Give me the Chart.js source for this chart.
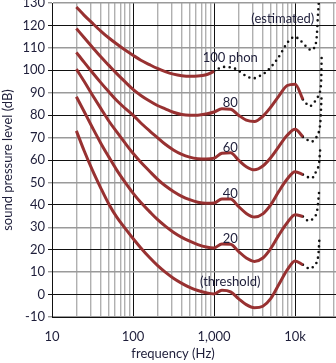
<!DOCTYPE html>
<html>
<head>
<meta charset="utf-8">
<title>Equal-loudness contours</title>
<script src="https://cdn.jsdelivr.net/npm/chart.js@4.4.1/dist/chart.umd.min.js"></script>
<style>
  html, body { margin: 0; padding: 0; background: #fff; }
  #wrap { width: 336px; height: 363px; }
</style>
</head>
<body>
<div id="wrap"><canvas id="chart" width="336" height="363"></canvas></div>
<script>
// measured frequencies (Hz) for the solid contours
const freqs = [20, 25, 31.5, 40, 50, 63, 80, 100, 125, 160, 200, 250, 315, 400, 500, 630, 800,
  1000, 1250, 1600, 2000, 2500, 3150, 4000, 5000, 6300, 8000, 10000, 12500];

// sound pressure level (dB) along each contour
const threshold = [73, 64, 55.5, 47.5, 40.5, 34.5, 29.5, 25, 20.8, 16.5, 13, 10, 7.3, 5, 3.2, 1.8, 0.8,
  0.3, 1.9, 1.2, -1.8, -4.5, -5.9, -5.2, -1.8, 4.5, 11, 15, 13.3];
const phon20 = [88.2, 81.5, 74.5, 67.5, 61.5, 55.5, 50, 45.2, 41, 37, 33.5, 30.5, 27.8, 25.5, 23.8, 22.3, 21.2,
  20.8, 22.6, 22.4, 19.3, 16.3, 14.8, 16.3, 20.5, 26.5, 32, 35.6, 34.8];
const phon40 = [100.5, 95, 89, 83, 77.5, 72.5, 67.5, 63, 59, 55, 51.5, 48.5, 46, 43.8, 42.3, 41.2, 40.7,
  40.8, 42.6, 42.6, 39.3, 36.2, 34.6, 36, 40, 46, 51.5, 54.8, 53.5];
const phon60 = [108, 103.5, 99, 94.5, 90.5, 86.5, 83, 80, 76.5, 73, 70, 67, 64.5, 62.5, 61.3, 60.6, 60.4,
  60.8, 63, 63.2, 60, 57, 55.6, 57.3, 61, 66, 71, 73.7, 70.3];
const phon80 = [118.6, 114.5, 110.3, 106, 102.3, 98.5, 94.8, 91.5, 88.8, 86.3, 84.3, 82.8, 81.3, 80.3, 80, 80, 80.5,
  81.4, 82.8, 82.6, 80, 77.8, 77.2, 79.5, 83.5, 88.5, 93.2, 93.8, 87];
const phon100 = [128.2, 124.5, 121, 117.5, 114.5, 111.7, 109, 106.7, 104.5, 102.5, 100.8, 99.4, 98.3, 97.6, 97.3, 97.4, 98,
  99.5];

// estimated extensions (dotted)
const est100Freq = [1000, 1290, 1800, 2500, 3040, 3630, 4400, 6120, 8200, 9930, 11530, 13900, 15800, 17400, 18500, 19100, 19700, 20200];
const est100 = [99.5, 101.5, 100.8, 97.4, 96.4, 97.4, 99.3, 105.3, 112.7, 114.9, 113.4, 110.4, 109, 110.4, 114.9, 123.8, 131, 137];
const est80Freq = [12500, 15200, 17500, 19900, 21000, 21300];
const est80 = [87, 84, 86, 89.7, 95.6, 107.5];
const est60Freq = [12500, 16000, 18500, 19900, 20600, 21200];
const est60 = [70.3, 68.2, 70.4, 73.4, 77.8, 88];
const est40Freq = [12500, 16000, 18500, 19900, 20300, 20600];
const est40 = [53.5, 51.9, 55.6, 59.3, 63.7, 66];
const est20Freq = [12500, 14600, 16800, 18800, 19400, 19900];
const est20 = [34.8, 32.9, 34.1, 37.8, 42.3, 46.7];
const estThrFreq = [12500, 15200, 17500, 19400, 19900];
const estThr = [13.3, 11.6, 13.3, 17.8, 24];

// axis ticks
const yTicks = [-10, 0, 10, 20, 30, 40, 50, 60, 70, 80, 90, 100, 110, 120, 130];
const xGrid = [10, 20, 30, 40, 50, 60, 70, 80, 90, 100, 200, 300, 400, 500, 600, 700, 800, 900,
  1000, 2000, 3000, 4000, 5000, 6000, 7000, 8000, 9000, 10000, 20000, 30000];
const xTickLabels = { 10: '10', 100: '100', 1000: '1,000', 10000: '10k' };

// contour labels: text, frequency, level
const contourLabels = [
  ['(estimated)', 7060, 123],
  ['100 phon', 1585, 105.4],
  ['80', 1585, 85.4],
  ['60', 1585, 65.4],
  ['40', 1585, 44.9],
  ['20', 1585, 24.9],
  ['(threshold)', 1585, 5.8]
];

const FONT = 'Lato';
const INK = '#1e1e3a';
const RED = '#983131';

const pts = (fs, ys) => ys.map((y, i) => ({ x: fs[i], y }));

const solid = (vals) => ({
  data: pts(freqs, vals),
  borderColor: RED,
  borderWidth: 3,
  pointRadius: 0,
  cubicInterpolationMode: 'monotone',
  fill: false
});

const dotted = (fs, vals) => ({
  data: pts(fs, vals),
  borderColor: '#111',
  borderWidth: 2.6,
  borderDash: [0, 5.6],
  borderCapStyle: 'round',
  pointRadius: 0,
  cubicInterpolationMode: 'monotone',
  fill: false
});

const labelPlugin = {
  id: 'contourLabels',
  afterDatasetsDraw(chart) {
    const { ctx, scales } = chart;
    ctx.save();
    ctx.fillStyle = INK;
    ctx.font = '13px ' + FONT;
    ctx.textAlign = 'center';
    ctx.textBaseline = 'middle';
    contourLabels.forEach(([text, f, v]) => {
      ctx.fillText(text, scales.x.getPixelForValue(f), scales.y.getPixelForValue(v));
    });
    // x axis title
    ctx.fillText('frequency (Hz)', chart.width * 0.515, chart.height - 9);
    ctx.restore();
  }
};

const isDecade = v => Math.abs(Math.log10(v) - Math.round(Math.log10(v))) < 1e-9;

new Chart(document.getElementById('chart').getContext('2d'), {
  type: 'line',
  data: {
    datasets: [
      solid(threshold), solid(phon20), solid(phon40), solid(phon60), solid(phon80),
      { ...solid([]), data: pts(freqs, phon100) },
      dotted(est100Freq, est100), dotted(est80Freq, est80), dotted(est60Freq, est60),
      dotted(est40Freq, est40), dotted(est20Freq, est20), dotted(estThrFreq, estThr)
    ]
  },
  options: {
    responsive: false,
    devicePixelRatio: 1,
    animation: false,
    layout: { padding: { top: 3, right: 0, bottom: 0, left: 0 } },
    plugins: { legend: { display: false }, tooltip: { enabled: false } },
    scales: {
      x: {
        type: 'logarithmic',
        min: 10,
        max: 32000,
        afterBuildTicks: s => { s.ticks = xGrid.map(value => ({ value })); },
        afterFit: s => { s.height = 46; s.paddingLeft = 0; s.paddingRight = 0; },
        border: { display: true, color: '#111', width: 1 },
        grid: {
          drawTicks: false,
          color: c => isDecade(c.tick.value) ? '#111' : '#b0b0b0',
          lineWidth: c => isDecade(c.tick.value) ? 1 : 1.4
        },
        ticks: {
          autoSkip: false,
          maxRotation: 0,
          padding: 12,
          color: INK,
          font: { family: FONT, size: 13 },
          callback: v => xTickLabels[v] || ''
        }
      },
      y: {
        min: -10,
        max: 130,
        afterBuildTicks: s => { s.ticks = yTicks.map(value => ({ value })); },
        afterFit: s => { s.width = 52; s.paddingTop = 0; s.paddingBottom = 0; },
        border: { display: true, color: '#111', width: 1 },
        grid: {
          tickLength: 4,
          color: c => c.tick.value % 20 === 0 ? '#111' : '#9a9a9a',
          lineWidth: c => c.tick.value % 20 === 0 ? 1 : 1.4
        },
        ticks: {
          padding: 3,
          color: INK,
          font: { family: FONT, size: 13 }
        },
        title: {
          display: true,
          text: 'sound pressure level (dB)',
          color: INK,
          font: { family: FONT, size: 13 },
          padding: { top: 0, bottom: 0 }
        }
      }
    }
  },
  plugins: [labelPlugin]
});
</script>
</body>
</html>
